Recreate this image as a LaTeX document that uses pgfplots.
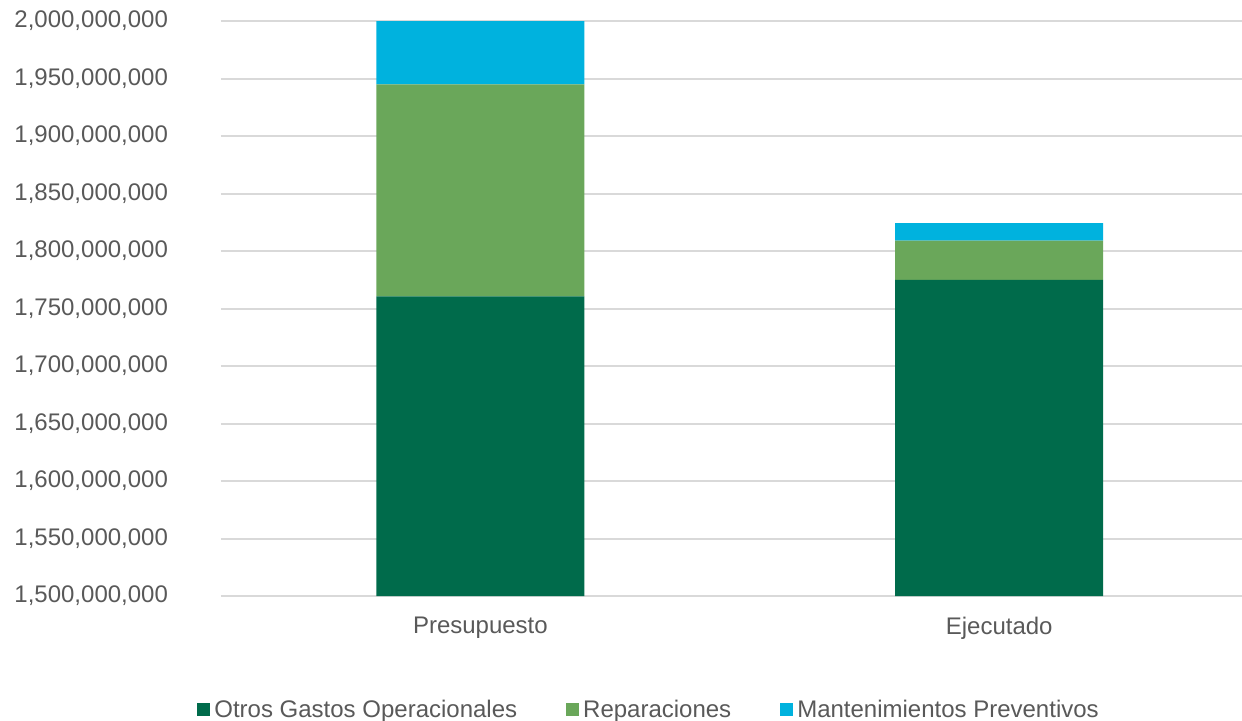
\documentclass[border=0pt]{standalone}
\usepackage{pgfplots}
\pgfplotsset{compat=1.18}
\usepackage{fontspec}
\setmainfont{Liberation Sans}
\definecolor{txt}{HTML}{595959}
\definecolor{gridc}{HTML}{D9D9D9}
\definecolor{c1}{HTML}{006B4B}
\definecolor{c2}{HTML}{6AA75A}
\definecolor{c3}{HTML}{00B2DE}
\begin{document}
\begin{tikzpicture}
\begin{axis}[
  scale only axis, width=510.5pt, height=287.5pt,
  ybar stacked, bar width=104pt,
  xmin=-0.5, xmax=1.468,
  ymin=1500000000, ymax=2000000000,
  ytick distance=50000000,
  scaled y ticks=false,
  /pgf/number format/assume math mode=true,
  yticklabel style={/pgf/number format/fixed, /pgf/number format/precision=0, /pgf/number format/1000 sep={,}, xshift=-23pt},
  xtick=data, xticklabels={Presupuesto,Ejecutado},
  xmajorgrids=false, ymajorgrids=true, major grid style={draw=gridc, line width=1pt},
  axis line style={draw=none},
  tick style={draw=none},
  ticklabel style={font=\fontsize{12pt}{14pt}\selectfont, text=txt},
  xticklabel style={yshift=-7pt},
  legend style={at={(-0.0294,-0.198)}, anchor=west, draw=none, legend columns=-1,
    font=\fontsize{12pt}{14pt}\selectfont, text=txt,
    /tikz/every even column/.append style={column sep=22.5pt}},
  legend image code/.code={\fill[#1] (0pt,-3.25pt) rectangle (6.5pt,3.25pt);},
  clip=true,
]
\addplot[fill=c1, draw=none] coordinates {(0,1760500000) (1,1775000000)};
\addplot[fill=c2, draw=none] coordinates {(0,184300000) (1,34100000)};
\addplot[fill=c3, draw=none] coordinates {(0,55200000) (1,15100000)};
\legend{Otros Gastos Operacionales, Reparaciones, Mantenimientos Preventivos}
\end{axis}
\pgfresetboundingbox
\path[use as bounding box] (-110.5pt,-62pt) rectangle (510.5pt,298pt);
\end{tikzpicture}
\end{document}
